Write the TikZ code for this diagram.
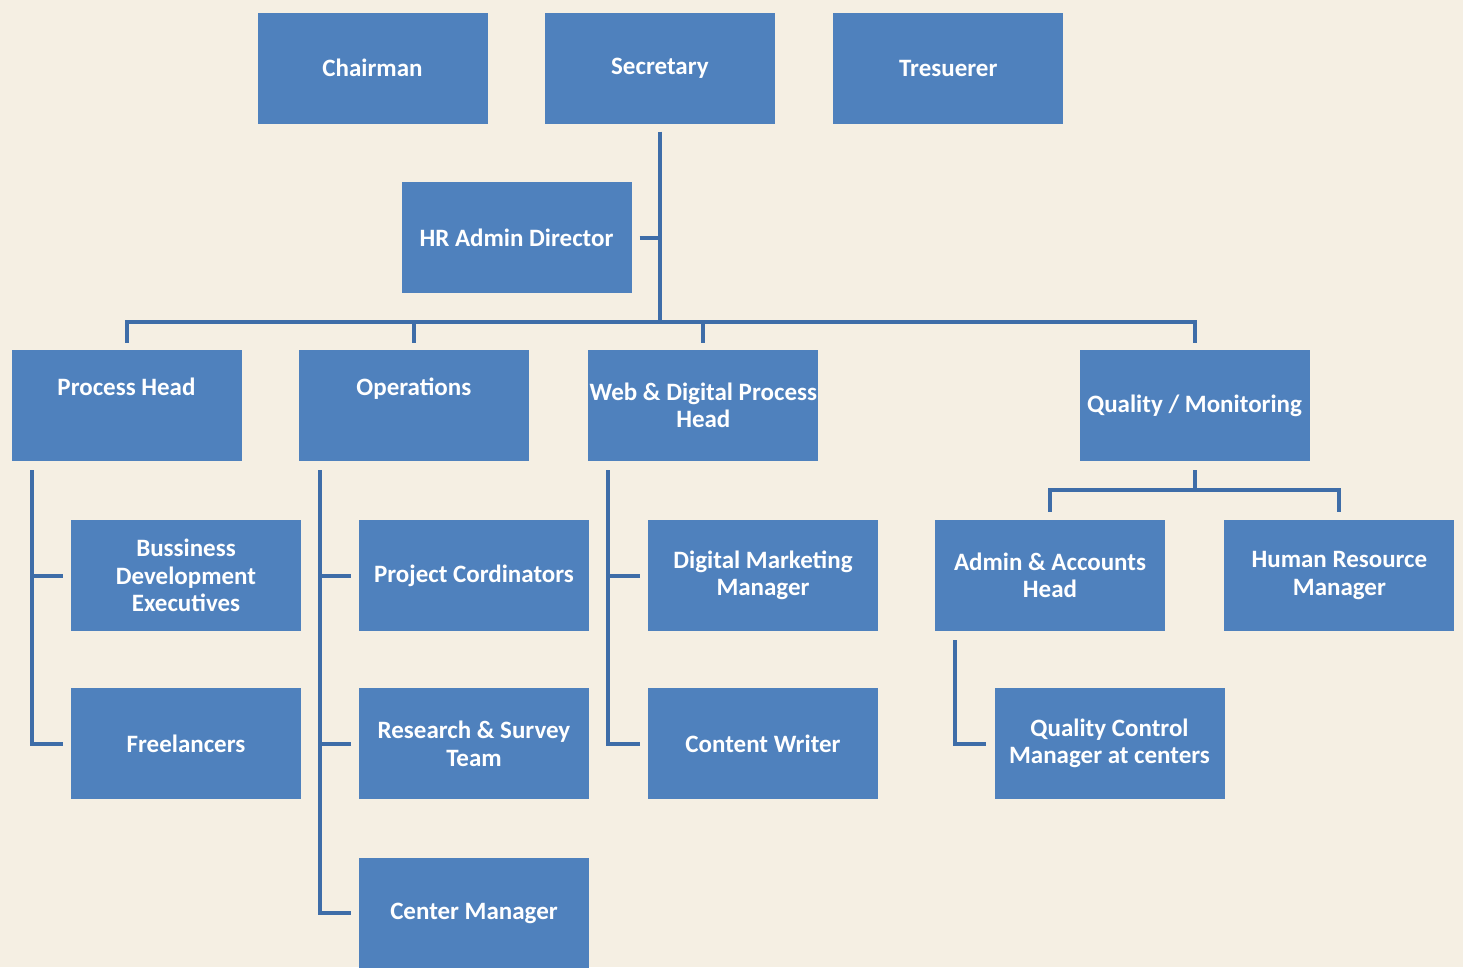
\documentclass[tikz,border=0pt]{standalone}
\usepackage{fontspec}
\setmainfont{Carlito}
\usepackage{tikz}
\usetikzlibrary{positioning}

\definecolor{paper}{HTML}{F5EFE3}
\definecolor{boxblue}{HTML}{4F81BD}
\definecolor{linkblue}{HTML}{3E6DA8}

\begin{document}
\begin{tikzpicture}[x=1pt,y=-1pt,
      box/.style={rectangle,fill=boxblue,text=white,minimum width=230pt,
        minimum height=111pt,inner sep=0pt,align=center,
        font=\fontsize{25}{27.5}\selectfont\bfseries},
      link/.style={draw=linkblue,line width=4pt}]
  \useasboundingbox (0,0) rectangle (1463,967);
  \fill[paper] (0,0) rectangle (1463,967);
  % top row
  \node[box] (chair) at (372.5,68) {Chairman};
  \node[box] (sec) [right=57pt of chair] {Secretary};
  \node[box] (tres) [right=58pt of sec] {Tresuerer};
  \node[box] (hr) at (516.5,237.5) {HR Admin Director};
  % heads
  \node[box] (proc) at (126.5,405.5) {Process Head\\[10pt]\mbox{}};
  \node[box] (ops) [right=57pt of proc] {Operations\\[10pt]\mbox{}};
  \node[box] (web) [right=59pt of ops] {Web \& Digital Process\\Head};
  \node[box] (qual) at (1194.5,405.5) {Quality / Monitoring};
  % staff
  \node[box] (bde) at (186,575.5) {Bussiness\\Development\\Executives};
  \node[box] (fl) [below=57pt of bde] {Freelancers};
  \node[box] (pc) at (474,575.5) {Project Cordinators};
  \node[box] (rst) [below=57pt of pc] {Research \& Survey\\Team};
  \node[box] (cm) [below=58pt of rst] {Center Manager};
  \node[box] (dmm) at (763,575.5) {Digital Marketing\\Manager};
  \node[box] (cw) [below=57pt of dmm] {Content Writer};
  \node[box] (aah) at (1050,575.5) {Admin \& Accounts\\Head};
  \node[box] (hrm) [right=59pt of aah] {Human Resource\\Manager};
  \node[box] (qcm) at (1109.5,743.5) {Quality Control\\Manager at centers};
  % lines
  \coordinate (bus) at (0,322);
  \coordinate (qbus) at (0,490);
  \draw[link] ([yshift=-8pt]sec.south) -- (sec.south |- bus);
  \draw[link] ([xshift=8pt]hr.east) -- (sec.south |- hr.east);
  \draw[link] ([yshift=7pt]proc.north) -- (proc.north |- bus)
    -- (qual.north |- bus) -- ([yshift=7pt]qual.north);
  \draw[link] (ops.north |- bus) -- ([yshift=7pt]ops.north);
  \draw[link] (web.north |- bus) -- ([yshift=7pt]web.north);
  \draw[link] ([yshift=-9pt]qual.south) -- (qual.south |- qbus);
  \draw[link] ([yshift=8pt]aah.north) -- (aah.north |- qbus)
    -- (hrm.north |- qbus) -- ([yshift=8pt]hrm.north);
  \coordinate (ptr) at ([xshift=21pt,yshift=-9pt]proc.south west);
  \draw[link] (ptr) |- ([xshift=-8pt]fl.west);
  \draw[link] (ptr |- bde.west) -- ([xshift=-8pt]bde.west);
  \coordinate (otr) at ([xshift=21pt,yshift=-9pt]ops.south west);
  \draw[link] (otr) |- ([xshift=-8pt]cm.west);
  \draw[link] (otr |- pc.west) -- ([xshift=-8pt]pc.west);
  \draw[link] (otr |- rst.west) -- ([xshift=-8pt]rst.west);
  \coordinate (wtr) at ([xshift=20pt,yshift=-9pt]web.south west);
  \draw[link] (wtr) |- ([xshift=-8pt]cw.west);
  \draw[link] (wtr |- dmm.west) -- ([xshift=-8pt]dmm.west);
  \coordinate (atr) at ([xshift=20pt,yshift=-9pt]aah.south west);
  \draw[link] (atr) |- ([xshift=-8pt]qcm.west);
\end{tikzpicture}
\end{document}
